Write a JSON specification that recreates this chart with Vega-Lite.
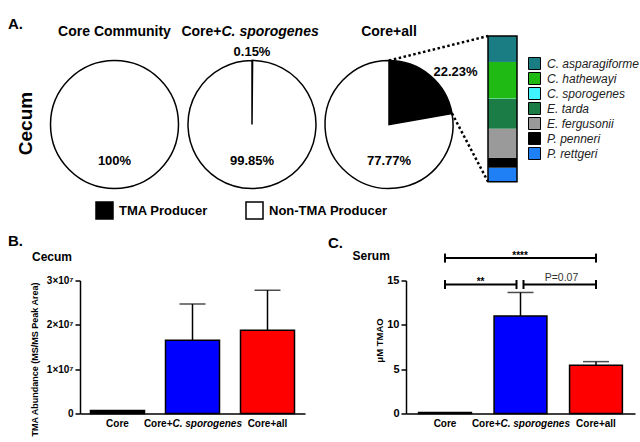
{
  "$schema": "https://vega.github.io/schema/vega-lite/v6.json",
  "padding": {"left": 8, "top": 16.5, "right": 0, "bottom": 0},
  "config": {
    "view": {"stroke": null},
    "font": "Liberation Sans",
    "title": {"font": "Liberation Sans", "subtitleFont": "Liberation Sans", "color": "black", "subtitleColor": "black"},
    "axis": {"domainColor": "black", "domainWidth": 1.5, "tickColor": "black", "tickWidth": 1.5, "tickSize": 5, "labelColor": "black", "labelFont": "Liberation Sans", "labelFontWeight": "bold", "titleFont": "Liberation Sans", "titleFontWeight": "bold", "titleColor": "black", "grid": false},
    "axisX": {"ticks": false, "labelAngle": 0, "labelPadding": 5, "labelFontSize": 10},
    "text": {"font": "Liberation Sans", "color": "black"},
    "legend": {"labelFont": "Liberation Sans"}
  },
  "datasets": {
    "pies": [
      {"group": "Core Community", "type": "Non-TMA Producer", "pct": 100, "label": "100%"},
      {"group": "Core+C. sporogenes", "type": "TMA Producer", "pct": 0.15, "label": "0.15%"},
      {"group": "Core+C. sporogenes", "type": "Non-TMA Producer", "pct": 99.85, "label": "99.85%"},
      {"group": "Core+all", "type": "TMA Producer", "pct": 22.23, "label": "22.23%"},
      {"group": "Core+all", "type": "Non-TMA Producer", "pct": 77.77, "label": "77.77%"}
    ],
    "species": [
      {"species": "P. rettgeri", "pct": 9.6},
      {"species": "P. penneri", "pct": 6.9},
      {"species": "E. fergusonii", "pct": 19.9},
      {"species": "E. tarda", "pct": 20.4},
      {"species": "C. sporogenes", "pct": 0.3},
      {"species": "C. hathewayi", "pct": 25.1},
      {"species": "C. asparagiforme", "pct": 17.8}
    ],
    "cecum": [
      {"grp": "Core", "mean": 700000, "upper": null},
      {"grp": "Core+C. sporogenes", "mean": 16500000, "upper": 24700000},
      {"grp": "Core+all", "mean": 18800000, "upper": 27800000}
    ],
    "serum": [
      {"grp": "Core", "mean": 0.12, "upper": null},
      {"grp": "Core+C. sporogenes", "mean": 11.0, "upper": 13.65},
      {"grp": "Core+all", "mean": 5.45, "upper": 5.85}
    ],
    "brackets": [
      {"from": "Core", "to": "Core+all", "label": "****", "level": "upper"},
      {"from": "Core", "to": "Core+C. sporogenes", "label": "**", "level": "lower"},
      {"from": "Core+C. sporogenes", "to": "Core+all", "label": "P=0.07", "level": "lower"}
    ],
    "one": [{"k": 1}]
  },
  "resolve": {"scale": {"fill": "independent", "color": "independent", "theta": "independent"}},
  "bounds": "flush",
  "spacing": 220,
  "title": {"text": "A.", "anchor": "start", "frame": "group", "dx": -72, "fontSize": 15, "fontWeight": "bold", "offset": -7},
  "vconcat": [
    {
      "bounds": "flush",
      "spacing": 68.5,
      "title": {"text": "Cecum", "orient": "left", "frame": "bounds", "anchor": "middle", "fontSize": 19, "fontWeight": "bold", "offset": 12},
      "hconcat": [
        {
          "width": 69, "height": 128,
          "data": {"name": "pies"},
          "transform": [{"filter": "datum.group == 'Core Community'"}],
          "layer": [
            {
              "mark": {"type": "arc", "radius": 64, "stroke": "black", "strokeWidth": 1.5},
              "encoding": {
                "theta": {"field": "pct", "type": "quantitative", "stack": true},
                "fill": {"field": "type", "type": "nominal", "scale": {"domain": ["TMA Producer", "Non-TMA Producer"], "range": ["black", "white"]},
                  "legend": {"orient": "none", "legendX": 15, "legendY": 140.5, "direction": "horizontal", "title": null, "symbolType": "square", "symbolSize": 289, "symbolStrokeColor": "black", "symbolStrokeWidth": 1.5, "labelFontSize": 13, "labelFontWeight": "bold", "labelColor": "black", "columnPadding": 35, "labelOffset": 5, "padding": 0}},
                "order": {"field": "type", "sort": "descending"}
              }
            },
            {
              "transform": [{"filter": "datum.type == 'Non-TMA Producer'"}],
              "mark": {"type": "text", "fontSize": 13, "fontWeight": "bold", "dy": 36.5},
              "encoding": {"text": {"field": "label"}}
            },
            {
              "mark": {"type": "text", "text": "Core Community", "fontSize": 14, "fontWeight": "bold", "baseline": "alphabetic", "dy": -88.5},
              "encoding": {}
            }
          ]
        },
        {
          "width": 69, "height": 128,
          "data": {"name": "pies"},
          "transform": [{"filter": "datum.group == 'Core+C. sporogenes'"}],
          "layer": [
            {
              "mark": {"type": "arc", "radius": 64, "stroke": "black", "strokeWidth": 1.5},
              "encoding": {
                "theta": {"field": "pct", "type": "quantitative", "stack": true},
                "fill": {"field": "type", "type": "nominal", "scale": {"domain": ["TMA Producer", "Non-TMA Producer"], "range": ["black", "white"]},
                  "legend": {"orient": "none", "legendX": 15, "legendY": 140.5, "direction": "horizontal", "title": null, "symbolType": "square", "symbolSize": 289, "symbolStrokeColor": "black", "symbolStrokeWidth": 1.5, "labelFontSize": 13, "labelFontWeight": "bold", "labelColor": "black", "columnPadding": 35, "labelOffset": 5, "padding": 0}},
                "order": {"field": "type", "sort": "descending"}
              }
            },
            {
              "transform": [{"filter": "datum.type == 'Non-TMA Producer'"}],
              "mark": {"type": "text", "fontSize": 13, "fontWeight": "bold", "dy": 36.5},
              "encoding": {"text": {"field": "label"}}
            },
            {
              "transform": [{"filter": "datum.type == 'TMA Producer'"}],
              "mark": {"type": "text", "fontSize": 13, "fontWeight": "bold", "dy": -72.5},
              "encoding": {"text": {"field": "label"}}
            },
            {
              "transform": [{"filter": "datum.type == 'TMA Producer'"}],
              "mark": {"type": "text", "text": "Core+", "fontSize": 14, "fontWeight": "bold", "baseline": "alphabetic", "align": "right", "dx": -30.5, "dy": -88.5},
              "encoding": {}
            },
            {
              "transform": [{"filter": "datum.type == 'TMA Producer'"}],
              "mark": {"type": "text", "text": "C. sporogenes", "fontSize": 14, "fontWeight": "bold", "fontStyle": "italic", "baseline": "alphabetic", "align": "left", "dx": -30.5, "dy": -88.5},
              "encoding": {}
            }
          ]
        },
        {
          "width": 162, "height": 128,
          "layer": [
            {
              "data": {"name": "pies"},
              "transform": [{"filter": "datum.group == 'Core+all'"}],
              "mark": {"type": "arc", "radius": 64, "stroke": "black", "strokeWidth": 1.5},
              "encoding": {
                "x": {"datum": -3.414, "type": "quantitative", "scale": {"domain": [-4.5862, 1], "nice": false, "zero": false}, "axis": null},
                "y": {"datum": 39.26, "type": "quantitative", "scale": {"domain": [-4.667, 83.19], "nice": false, "zero": false}, "axis": null},
                "theta": {"field": "pct", "type": "quantitative", "stack": true},
                "fill": {"field": "type", "type": "nominal", "scale": {"domain": ["TMA Producer", "Non-TMA Producer"], "range": ["black", "white"]},
                  "legend": {"orient": "none", "legendX": 15, "legendY": 140.5, "direction": "horizontal", "title": null, "symbolType": "square", "symbolSize": 289, "symbolStrokeColor": "black", "symbolStrokeWidth": 1.5, "labelFontSize": 13, "labelFontWeight": "bold", "labelColor": "black", "columnPadding": 35, "labelOffset": 5, "padding": 0}},
                "order": {"field": "type", "sort": "descending"}
              }
            },
            {
              "data": {"name": "pies"},
              "transform": [{"filter": "datum.group == 'Core+all' && datum.type == 'TMA Producer'"}],
              "mark": {"type": "text", "text": "Core+all", "fontSize": 14, "fontWeight": "bold", "baseline": "alphabetic"},
              "encoding": {
                "x": {"datum": -3.414, "type": "quantitative", "scale": {"domain": [-4.5862, 1], "nice": false, "zero": false}, "axis": null},
                "y": {"datum": 100, "type": "quantitative", "scale": {"domain": [-4.667, 83.19], "nice": false, "zero": false}, "axis": null}
              }
            },
            {
              "data": {"name": "pies"},
              "transform": [{"filter": "datum.group == 'Core+all' && datum.type == 'TMA Producer'"}],
              "mark": {"type": "text", "fontSize": 13, "fontWeight": "bold"},
              "encoding": {
                "x": {"datum": -1.121, "type": "quantitative", "scale": {"domain": [-4.5862, 1], "nice": false, "zero": false}, "axis": null},
                "y": {"datum": 75.6, "type": "quantitative", "scale": {"domain": [-4.667, 83.19], "nice": false, "zero": false}, "axis": null},
                "text": {"field": "label"}
              }
            },
            {
              "data": {"name": "pies"},
              "transform": [{"filter": "datum.group == 'Core+all' && datum.type == 'Non-TMA Producer'"}],
              "mark": {"type": "text", "fontSize": 13, "fontWeight": "bold"},
              "encoding": {
                "x": {"datum": -3.414, "type": "quantitative", "scale": {"domain": [-4.5862, 1], "nice": false, "zero": false}, "axis": null},
                "y": {"datum": 14.2, "type": "quantitative", "scale": {"domain": [-4.667, 83.19], "nice": false, "zero": false}, "axis": null},
                "text": {"field": "label"}
              }
            },
            {
              "data": {"name": "species"},
              "transform": [{"stack": "pct", "groupby": [], "as": ["y0", "y1"]}],
              "mark": {"type": "rect"},
              "encoding": {
                "x": {"datum": 0, "type": "quantitative", "scale": {"domain": [-4.5862, 1], "nice": false, "zero": false}, "axis": null},
                "x2": {"datum": 1},
                "y": {"field": "y0", "type": "quantitative", "scale": {"domain": [-4.667, 83.19], "nice": false, "zero": false}, "axis": null},
                "y2": {"field": "y1"},
                "color": {"field": "species", "type": "nominal",
                  "scale": {"domain": ["C. asparagiforme", "C. hathewayi", "C. sporogenes", "E. tarda", "E. fergusonii", "P. penneri", "P. rettgeri"],
                            "range": ["#1b7d84", "#1fbb14", "#40f4ff", "#1b7d45", "#9a9a9a", "#000000", "#1f80f5"]},
                  "legend": {"orient": "none", "legendX": 448, "legendY": -3.5, "title": null, "symbolType": "square", "symbolSize": 144, "symbolStrokeColor": "black", "symbolStrokeWidth": 1, "symbolOpacity": 1, "labelFontSize": 12, "labelFontStyle": "italic", "labelColor": "#222222", "rowPadding": -2.6, "labelOffset": 6, "padding": 0}}
              }
            },
            {
              "data": {"name": "one"},
              "mark": {"type": "rect", "fill": null, "fillOpacity": 0, "stroke": "black", "strokeWidth": 1.5},
              "encoding": {
                "x": {"datum": 0, "type": "quantitative", "scale": {"domain": [-4.5862, 1], "nice": false, "zero": false}, "axis": null},
                "x2": {"datum": 1},
                "y": {"datum": 0, "type": "quantitative", "scale": {"domain": [-4.667, 83.19], "nice": false, "zero": false}, "axis": null},
                "y2": {"datum": 100}
              }
            },
            {
              "data": {"name": "one"},
              "mark": {"type": "rule", "color": "black", "strokeWidth": 2.5, "strokeDash": [2.5, 2.5]},
              "encoding": {
                "x": {"datum": -3.414, "type": "quantitative", "scale": {"domain": [-4.5862, 1], "nice": false, "zero": false}, "axis": null},
                "x2": {"datum": 0},
                "y": {"datum": 83.19, "type": "quantitative", "scale": {"domain": [-4.667, 83.19], "nice": false, "zero": false}, "axis": null},
                "y2": {"datum": 100}
              }
            },
            {
              "data": {"name": "one"},
              "mark": {"type": "rule", "color": "black", "strokeWidth": 2.5, "strokeDash": [2.5, 2.5]},
              "encoding": {
                "x": {"datum": -1.241, "type": "quantitative", "scale": {"domain": [-4.5862, 1], "nice": false, "zero": false}, "axis": null},
                "x2": {"datum": 0},
                "y": {"datum": 46.88, "type": "quantitative", "scale": {"domain": [-4.667, 83.19], "nice": false, "zero": false}, "axis": null},
                "y2": {"datum": 0}
              }
            }
          ]
        }
      ]
    },
    {
      "bounds": "flush",
      "spacing": 101,
      "hconcat": [
        {
          "width": 225, "height": 133,
          "title": {"text": "B.", "anchor": "start", "frame": "group", "dx": -72, "fontSize": 15, "fontWeight": "bold", "offset": 2},
          "data": {"name": "cecum"},
          "encoding": {
            "x": {"field": "grp", "type": "nominal", "sort": null, "title": null,
              "scale": {"domain": ["Core", "Core+C. sporogenes", "Core+all"], "paddingInner": 0.28, "paddingOuter": 0.14},
              "axis": {"labelExpr": "datum.value == 'Core+C. sporogenes' ? '' : datum.value"}}
          },
          "layer": [
            {
              "mark": {"type": "bar", "stroke": "black", "strokeWidth": 1.5},
              "encoding": {
                "y": {"field": "mean", "type": "quantitative", "title": "TMA Abundance (MS/MS Peak Area)",
                  "scale": {"domain": [0, 30000000], "nice": false},
                  "axis": {"values": [0, 10000000, 20000000, 30000000], "labelExpr": "datum.value == 0 ? '0' : format(datum.value / 10000000, 'd') + '×10⁷'", "labelFontSize": 10, "labelPadding": 2, "titleFontSize": 9, "titlePadding": 7, "titleY": 78.5}},
                "color": {"field": "grp", "type": "nominal", "scale": {"domain": ["Core", "Core+C. sporogenes", "Core+all"], "range": ["#000000", "#0000ff", "#ff0000"]}, "legend": null}
              }
            },
            {
              "transform": [{"filter": "datum.upper != null"}],
              "mark": {"type": "rule", "color": "black", "strokeWidth": 1.5},
              "encoding": {
                "y": {"field": "mean", "type": "quantitative", "title": "TMA Abundance (MS/MS Peak Area)"},
                "y2": {"field": "upper"}
              }
            },
            {
              "transform": [{"filter": "datum.upper != null"}],
              "mark": {"type": "tick", "color": "black", "thickness": 1.5, "size": 26},
              "encoding": {
                "y": {"field": "upper", "type": "quantitative", "title": "TMA Abundance (MS/MS Peak Area)"}
              }
            },
            {
              "transform": [{"filter": "datum.grp == 'Core+C. sporogenes'"}],
              "mark": {"type": "text", "text": "Core+", "fontSize": 10, "fontWeight": "bold", "align": "right", "baseline": "top", "dx": -20, "dy": 5},
              "encoding": {"y": {"datum": 0, "type": "quantitative"}}
            },
            {
              "transform": [{"filter": "datum.grp == 'Core+C. sporogenes'"}],
              "mark": {"type": "text", "text": "C. sporogenes", "fontSize": 10, "fontWeight": "bold", "fontStyle": "italic", "align": "left", "baseline": "top", "dx": -20, "dy": 5},
              "encoding": {"y": {"datum": 0, "type": "quantitative"}}
            },
            {
              "transform": [{"filter": "datum.grp == 'Core'"}],
              "mark": {"type": "text", "text": "Cecum", "fontSize": 12, "fontWeight": "bold", "align": "left", "baseline": "alphabetic", "dx": -85.5},
              "encoding": {"y": {"datum": 34510000, "type": "quantitative"}}
            }
          ]
        },
        {
          "width": 229, "height": 133,
          "title": {"text": "C.", "anchor": "start", "frame": "group", "dx": -78, "fontSize": 15, "fontWeight": "bold", "offset": -1},
          "data": {"name": "serum"},
          "encoding": {
            "x": {"field": "grp", "type": "nominal", "sort": null, "title": null,
              "scale": {"domain": ["Core", "Core+C. sporogenes", "Core+all"], "paddingInner": 0.3, "paddingOuter": 0.167},
              "axis": {"labelExpr": "datum.value == 'Core+C. sporogenes' ? '' : datum.value"}}
          },
          "layer": [
            {
              "mark": {"type": "bar", "stroke": "black", "strokeWidth": 1.5},
              "encoding": {
                "y": {"field": "mean", "type": "quantitative", "title": "μM TMAO",
                  "scale": {"domain": [0, 15], "nice": false},
                  "axis": {"values": [0, 5, 10, 15], "labelFontSize": 11, "labelPadding": 2, "titleFontSize": 9.5, "titlePadding": 2, "titleY": 59.5}},
                "color": {"field": "grp", "type": "nominal", "scale": {"domain": ["Core", "Core+C. sporogenes", "Core+all"], "range": ["#000000", "#0000ff", "#ff0000"]}, "legend": null}
              }
            },
            {
              "transform": [{"filter": "datum.upper != null"}],
              "mark": {"type": "rule", "color": "black", "strokeWidth": 1.5},
              "encoding": {
                "y": {"field": "mean", "type": "quantitative", "title": "μM TMAO"},
                "y2": {"field": "upper"}
              }
            },
            {
              "transform": [{"filter": "datum.upper != null"}],
              "mark": {"type": "tick", "color": "black", "thickness": 1.5, "size": 26},
              "encoding": {
                "y": {"field": "upper", "type": "quantitative", "title": "μM TMAO"}
              }
            },
            {
              "transform": [{"filter": "datum.grp == 'Core+C. sporogenes'"}],
              "mark": {"type": "text", "text": "Core+", "fontSize": 10, "fontWeight": "bold", "align": "right", "baseline": "top", "dx": -20, "dy": 5},
              "encoding": {"y": {"datum": 0, "type": "quantitative"}}
            },
            {
              "transform": [{"filter": "datum.grp == 'Core+C. sporogenes'"}],
              "mark": {"type": "text", "text": "C. sporogenes", "fontSize": 10, "fontWeight": "bold", "fontStyle": "italic", "align": "left", "baseline": "top", "dx": -20, "dy": 5},
              "encoding": {"y": {"datum": 0, "type": "quantitative"}}
            },
            {
              "transform": [{"filter": "datum.grp == 'Core'"}],
              "mark": {"type": "text", "text": "Serum", "fontSize": 12, "fontWeight": "bold", "align": "left", "baseline": "alphabetic", "dx": -92.5},
              "encoding": {"y": {"datum": 17.26, "type": "quantitative"}}
            },
            {
              "data": {"name": "brackets"},
              "transform": [{"filter": "datum.level == 'upper'"}],
              "mark": {"type": "rule", "color": "black", "strokeWidth": 2},
              "encoding": {
                "x": {"field": "from", "type": "nominal", "title": null},
                "x2": {"field": "to"},
                "y": {"datum": 17.53, "type": "quantitative"}
              }
            },
            {
              "data": {"name": "brackets"},
              "transform": [{"filter": "datum.level == 'upper'"}, {"fold": ["from", "to"], "as": ["end", "cat"]}],
              "mark": {"type": "point", "shape": "M0,-1L0,1", "size": 81, "filled": false, "stroke": "black", "strokeWidth": 2, "opacity": 1},
              "encoding": {
                "x": {"field": "cat", "type": "nominal", "title": null},
                "y": {"datum": 17.53, "type": "quantitative"}
              }
            },
            {
              "data": {"name": "brackets"},
              "transform": [{"filter": "datum.level == 'upper'"}],
              "mark": {"type": "text", "fontSize": 10, "fontWeight": "bold", "baseline": "alphabetic", "dx": 75, "dy": 1},
              "encoding": {
                "x": {"field": "from", "type": "nominal", "title": null},
                "y": {"datum": 17.53, "type": "quantitative"},
                "text": {"field": "label"}
              }
            },
            {
              "data": {"name": "brackets"},
              "transform": [{"filter": "datum.label == '**'"}],
              "mark": {"type": "rule", "color": "black", "strokeWidth": 2, "x2Offset": -4},
              "encoding": {
                "x": {"field": "from", "type": "nominal", "title": null},
                "x2": {"field": "to"},
                "y": {"datum": 14.55, "type": "quantitative"}
              }
            },
            {
              "data": {"name": "brackets"},
              "transform": [{"filter": "datum.label == '**'"}],
              "mark": {"type": "point", "shape": "M0,-1L0,1", "size": 81, "filled": false, "stroke": "black", "strokeWidth": 2, "opacity": 1},
              "encoding": {
                "x": {"field": "from", "type": "nominal", "title": null},
                "y": {"datum": 14.55, "type": "quantitative"}
              }
            },
            {
              "data": {"name": "brackets"},
              "transform": [{"filter": "datum.label == '**'"}],
              "mark": {"type": "point", "shape": "M0,-1L0,1", "size": 81, "filled": false, "stroke": "black", "strokeWidth": 2, "opacity": 1, "xOffset": -4},
              "encoding": {
                "x": {"field": "to", "type": "nominal", "title": null},
                "y": {"datum": 14.55, "type": "quantitative"}
              }
            },
            {
              "data": {"name": "brackets"},
              "transform": [{"filter": "datum.label == 'P=0.07'"}],
              "mark": {"type": "rule", "color": "black", "strokeWidth": 2, "xOffset": 3},
              "encoding": {
                "x": {"field": "from", "type": "nominal", "title": null},
                "x2": {"field": "to"},
                "y": {"datum": 14.55, "type": "quantitative"}
              }
            },
            {
              "data": {"name": "brackets"},
              "transform": [{"filter": "datum.label == 'P=0.07'"}],
              "mark": {"type": "point", "shape": "M0,-1L0,1", "size": 81, "filled": false, "stroke": "black", "strokeWidth": 2, "opacity": 1, "xOffset": 3},
              "encoding": {
                "x": {"field": "from", "type": "nominal", "title": null},
                "y": {"datum": 14.55, "type": "quantitative"}
              }
            },
            {
              "data": {"name": "brackets"},
              "transform": [{"filter": "datum.label == 'P=0.07'"}],
              "mark": {"type": "point", "shape": "M0,-1L0,1", "size": 81, "filled": false, "stroke": "black", "strokeWidth": 2, "opacity": 1},
              "encoding": {
                "x": {"field": "to", "type": "nominal", "title": null},
                "y": {"datum": 14.55, "type": "quantitative"}
              }
            },
            {
              "data": {"name": "brackets"},
              "transform": [{"filter": "datum.label == '**'"}],
              "mark": {"type": "text", "fontSize": 10, "fontWeight": "bold", "baseline": "alphabetic", "dx": 35.5, "dy": 1},
              "encoding": {
                "x": {"field": "from", "type": "nominal", "title": null},
                "y": {"datum": 14.55, "type": "quantitative"},
                "text": {"field": "label"}
              }
            },
            {
              "data": {"name": "brackets"},
              "transform": [{"filter": "datum.label == 'P=0.07'"}],
              "mark": {"type": "text", "fontSize": 10.5, "color": "#333333", "baseline": "alphabetic", "dx": 41, "dy": -3},
              "encoding": {
                "x": {"field": "from", "type": "nominal", "title": null},
                "y": {"datum": 14.55, "type": "quantitative"},
                "text": {"field": "label"}
              }
            }
          ]
        }
      ]
    }
  ]
}
